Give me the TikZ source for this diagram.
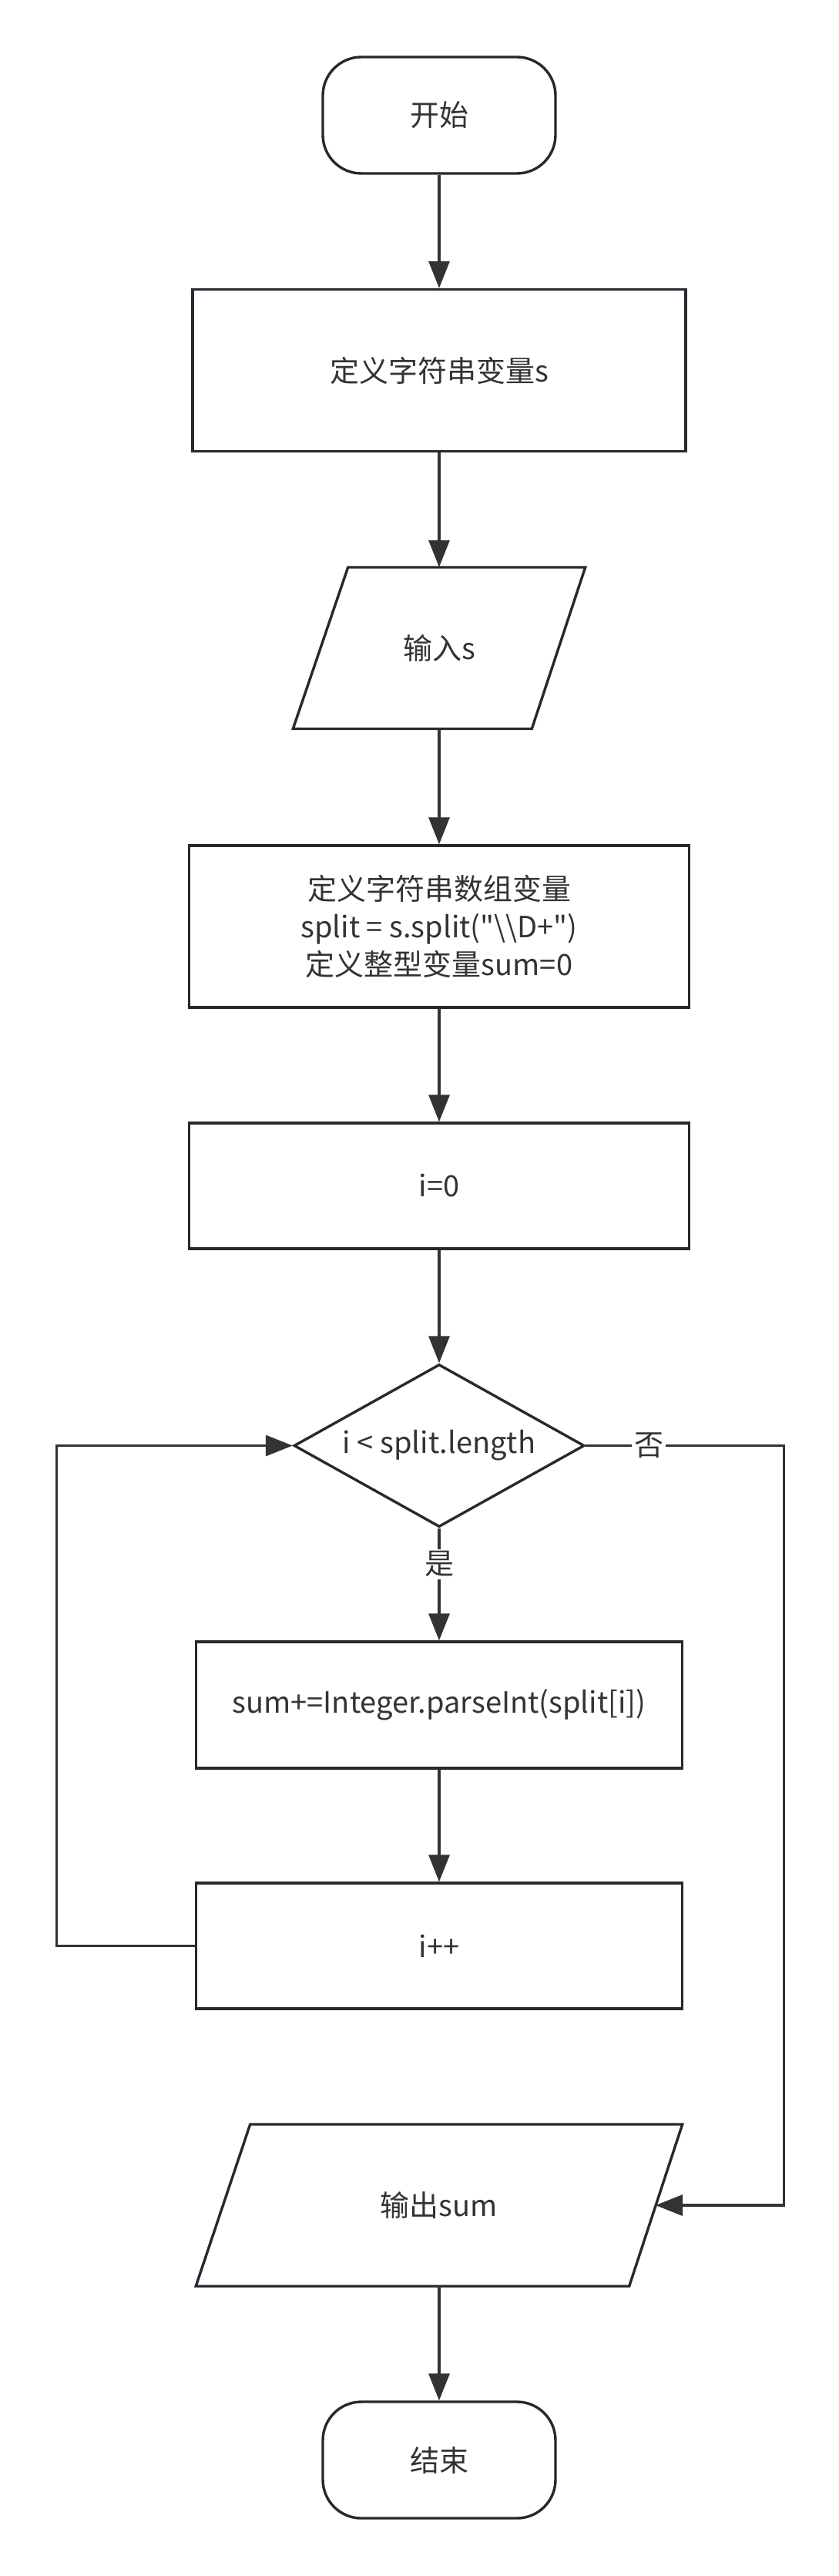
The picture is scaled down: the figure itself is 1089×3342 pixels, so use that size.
\documentclass[tikz,border=0pt]{standalone}
\usepackage{fontspec}
\setmainfont{Noto Sans CJK SC}[Ligatures=TeXOff]
\usetikzlibrary{arrows.meta,shapes.geometric}
\definecolor{strokec}{HTML}{232A31}
\definecolor{arrc}{HTML}{333333}
\definecolor{txtc}{HTML}{333333}
\begin{document}
\begin{tikzpicture}[x=1pt,y=-1pt,
  every node/.style={font=\fontsize{38}{49}\selectfont, text=txtc},
  termbox/.style={draw=strokec, line width=3.4pt, rounded corners=50pt, minimum width=302pt, minimum height=151pt, inner sep=0pt},
  procbox/.style={draw=strokec, line width=3.4pt, inner sep=0pt, align=center},
  iobox/.style={inner sep=0pt, align=center},
  ioshape/.style={draw=strokec, line width=3.4pt, line join=miter},
  decbox/.style={draw=strokec, line width=3.4pt, diamond, aspect=1.79, minimum width=377pt, minimum height=211pt, inner sep=0pt},
  flow/.style={draw=arrc, line width=3.2pt, -{Triangle[length=35pt,width=27pt]}},
  lbl/.style={fill=white, inner sep=3pt}]
\fill[white] (0,0) rectangle (1089,3342);
\useasboundingbox (0,0) rectangle (1089,3342);

\node[termbox] (start) at (570,149.5) {开始};
\node[procbox, minimum width=640pt, minimum height=210pt] (def1) at (570,480.5) {定义字符串变量s};
\node[iobox, minimum width=310pt, minimum height=209.5pt] (inp) at (570,840.75) {输入s};
\draw[ioshape] (451.7,736) -- (759.7,736) -- (690.3,945.5) -- (380.3,945.5) -- cycle;
\node[procbox, minimum width=649pt, minimum height=210pt] (def3) at (570,1202) {定义字符串数组变量\\split = s.split("\textbackslash\textbackslash D+")\\定义整型变量sum=0};
\node[procbox, minimum width=649pt, minimum height=163pt] (i0) at (570,1538.5) {i=0};
\node[decbox] (dia) at (570,1875.5) {i < split.length};
\node[procbox, minimum width=631pt, minimum height=164pt] (sum) at (570,2212) {sum+=Integer.parseInt(split[i])};
\node[procbox, minimum width=631pt, minimum height=163pt] (ipp) at (570,2524.5) {i++};
\node[iobox, minimum width=562pt, minimum height=210pt] (out) at (570,2861) {输出sum};
\draw[ioshape] (324.7,2756) -- (885.7,2756) -- (816.7,2966) -- (254.2,2966) -- cycle;
\coordinate (outR) at (851,2861);
\node[termbox] (end) at (570,3191.5) {结束};

\draw[flow] (start) -- (def1);
\draw[flow] (def1) -- (inp);
\draw[flow] (inp) -- (def3);
\draw[flow] (def3) -- (i0);
\draw[flow] (i0) -- (dia);
\draw[flow] (dia.south) -- node[lbl, pos=0.32] {是} (sum.north);
\draw[flow] (sum) -- (ipp);
\draw[flow] (ipp.west) -- ++(-179.5,0) |- (dia.west);
\draw[flow] (dia.east) -- node[lbl, pos=0.32] {否} ++(257,0) |- (outR);
\draw[flow] (out) -- (end);
\end{tikzpicture}
\end{document}
